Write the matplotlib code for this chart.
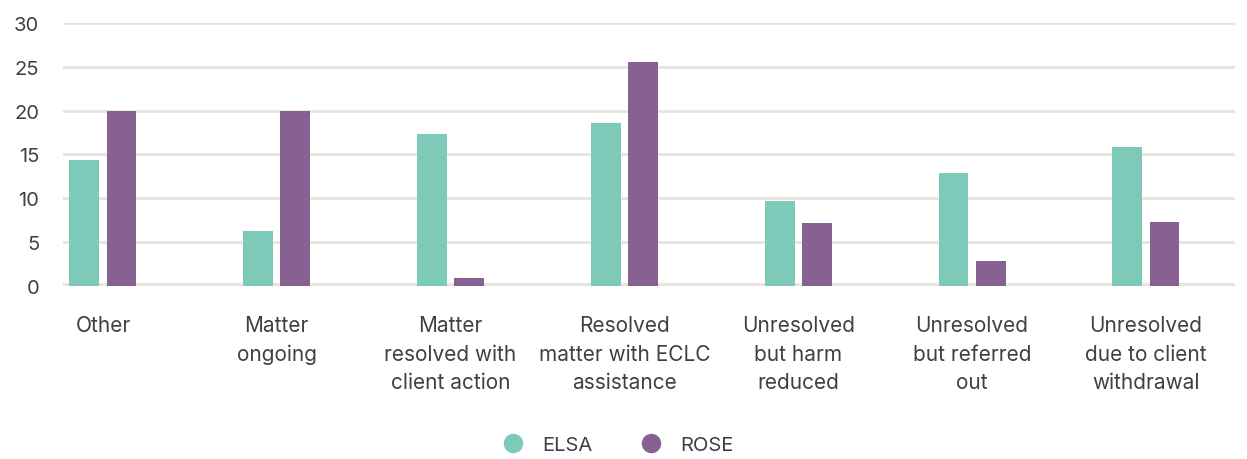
import matplotlib.pyplot as plt
import numpy as np
from matplotlib.lines import Line2D

# Outcome categories and counts per program
categories = ['Other', 'Matter\nongoing', 'Matter\nresolved with\nclient action',
              'Resolved\nmatter with ECLC\nassistance', 'Unresolved\nbut harm\nreduced',
              'Unresolved\nbut referred\nout', 'Unresolved\ndue to client\nwithdrawal']
elsa = [14.4, 6.3, 17.3, 18.6, 9.7, 12.9, 15.9]
rose = [20.0, 20.0, 0.9, 25.5, 7.2, 2.9, 7.3]
yticks = [0, 5, 10, 15, 20, 25, 30]

elsa_color = '#7ECAB8'
rose_color = '#876192'
grid_color = '#E7E4DB'
text_color = '#3C4147'

plt.rcParams['font.family'] = ['Inter', 'DejaVu Sans']

fig = plt.figure(figsize=(12.47, 4.6), dpi=100)
ax = fig.add_axes([0.0505, 0.376, 0.9395, 0.572])

x = np.arange(len(categories))
w = 0.172
off = 0.107
ax.bar(x - off, elsa, width=w, color=elsa_color, zorder=3)
ax.bar(x + off, rose, width=w, color=rose_color, zorder=3)

# horizontal gridlines and thicker rounded baseline
for t in yticks[1:]:
    ax.axhline(t, color=grid_color, lw=2, zorder=1, solid_capstyle='round')
ax.axhline(0, color=grid_color, lw=5, zorder=2, solid_capstyle='round')

ax.set_xlim(-0.23, 6.51)
ax.set_ylim(0, 30)
ax.set_yticks(yticks)
ax.set_xticks(x)
ax.set_xticklabels(categories, linespacing=1.52, fontsize=15)
ax.tick_params(axis='y', labelsize=14.5)
ax.tick_params(axis='both', length=0, colors=text_color)
ax.tick_params(axis='x', pad=21)
ax.tick_params(axis='y', pad=17)
for lbl in ax.get_xticklabels():
    lbl.set_verticalalignment('top')
for s in ax.spines.values():
    s.set_visible(False)

handles = [Line2D([], [], marker='o', ls='none', ms=13, color=elsa_color),
           Line2D([], [], marker='o', ls='none', ms=13, color=rose_color)]
leg = fig.legend(handles, ['ELSA', 'ROSE'], loc='center', bbox_to_anchor=(0.492, 0.03),
                 ncol=2, frameon=False, fontsize=14.5, handletextpad=0.45, columnspacing=1.9)
for t in leg.get_texts():
    t.set_color(text_color)

fig.savefig('out.png', dpi=100, facecolor='white')
